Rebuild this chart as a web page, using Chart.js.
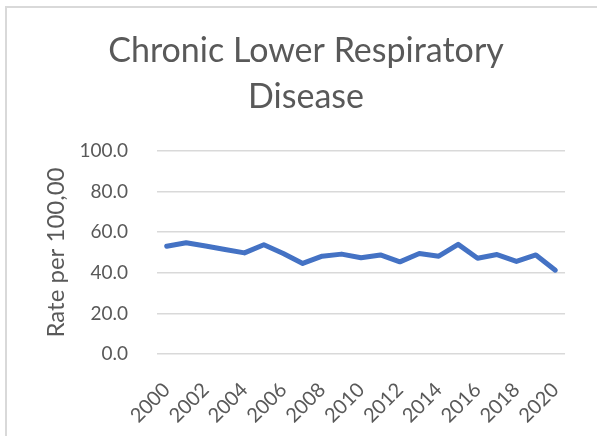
<!DOCTYPE html>
<html>
<head>
<meta charset="utf-8">
<script src="https://cdn.jsdelivr.net/npm/chart.js@4/dist/chart.umd.min.js"></script>
<style>
  html, body { margin: 0; padding: 0; background: #ffffff; overflow: hidden; }
  #frame { position: absolute; left: 5px; top: 6px; width: 700px; height: 600px;
           border-left: 2px solid #d9d9d9; border-top: 2px solid #d9d9d9; box-sizing: border-box; }
  #wrap { position: absolute; left: 0; top: 0; width: 597px; height: 436px; }
</style>
</head>
<body>
<div id="frame"></div>
<div id="wrap"><canvas id="c" width="597" height="436"></canvas></div>
<script>
const chartTitle = ["Chronic Lower Respiratory", "Disease"];
const yAxisTitle = "Rate per 100,00";
const years = ["2000","2001","2002","2003","2004","2005","2006","2007","2008","2009","2010",
               "2011","2012","2013","2014","2015","2016","2017","2018","2019","2020"];
const rates = [53.1, 54.8, 53.2, 51.5, 49.8, 53.8, 49.5, 44.6, 48.2, 49.2, 47.4,
               48.8, 45.4, 49.5, 48.2, 54.0, 47.2, 49.0, 45.6, 48.8, 41.3];
const yTicks = [0, 20, 40, 60, 80, 100];

const FONT = "Lato";
const GREY = "#595959";

const titlePlugin = {
  id: 'twoLineTitle',
  afterDraw(chart) {
    const ctx = chart.ctx;
    ctx.save();
    ctx.fillStyle = GREY;
    ctx.font = "34px " + FONT;
    ctx.textAlign = "center";
    ctx.textBaseline = "alphabetic";
    ctx.fillText(chartTitle[0], 306, 62);
    ctx.fillText(chartTitle[1], 306, 108);
    ctx.restore();
  }
};

new Chart(document.getElementById('c'), {
  type: 'line',
  data: {
    labels: years,
    datasets: [{
      data: rates,
      borderColor: '#4472C4',
      backgroundColor: '#4472C4',
      borderWidth: 5,
      pointRadius: 0,
      tension: 0,
      borderCapStyle: 'round',
      borderJoinStyle: 'round'
    }]
  },
  options: {
    responsive: false,
    animation: false,
    layout: { padding: { top: 151, left: 0, right: 30, bottom: 0 } },
    plugins: { legend: { display: false }, title: { display: false }, tooltip: { enabled: false } },
    scales: {
      x: {
        offset: true,
        grid: { display: false, drawTicks: false },
        border: { display: false },
        ticks: {
          autoSkip: false,
          minRotation: 45, maxRotation: 45,
          padding: 24,
          color: GREY,
          font: { family: FONT, size: 20 },
          callback: function(v, i) { return i % 2 === 0 ? years[i] : ''; }
        },
        afterFit(scale) { scale.height = 82; }
      },
      y: {
        min: 0, max: 100,
        grid: { color: '#d9d9d9', lineWidth: 1.5, drawTicks: false },
        border: { display: false },
        afterBuildTicks(scale) { scale.ticks = yTicks.map(v => ({ value: v })); },
        ticks: {
          padding: 29,
          color: GREY,
          font: { family: FONT, size: 19 },
          callback: v => Number(v).toFixed(1)
        },
        title: {
          display: true,
          text: yAxisTitle,
          color: GREY,
          font: { family: FONT, size: 24 },
          padding: { top: 42, bottom: 0 }
        },
        afterFit(scale) { scale.width = 157; }
      }
    }
  },
  plugins: [titlePlugin]
});
</script>
</body>
</html>
